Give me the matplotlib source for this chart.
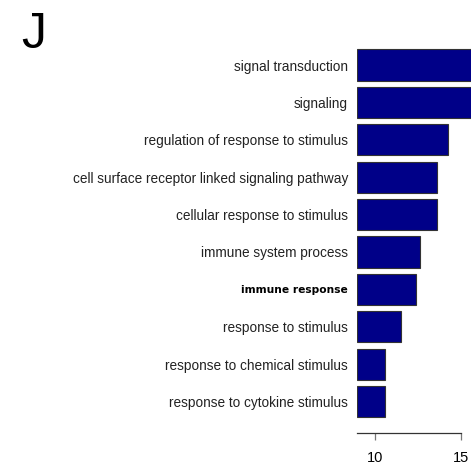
import matplotlib
matplotlib.use("Agg")
import matplotlib.pyplot as plt

plt.rcParams['font.family'] = ['Liberation Sans', 'DejaVu Sans']

# GO terms, top to bottom, with their scores
terms = ["signal transduction", "signaling", "regulation of response to stimulus",
         "cell surface receptor linked signaling pathway", "cellular response to stimulus",
         "immune system process", "immune response", "response to stimulus",
         "response to chemical stimulus", "response to cytokine stimulus"]
scores = [17.9, 17.6, 14.25, 13.6, 13.6, 12.6, 12.4, 11.5, 10.55, 10.55]
ticks = [10, 15]

W, H = 471, 466
fig = plt.figure(figsize=(W / 100, H / 100), dpi=100)

x0, x1 = 8.95, 20.0
px_per_unit = 17.2
left_px, top_px, bottom_px = 357, 30, 433
ax = fig.add_axes([left_px / W, (H - bottom_px) / H,
                   (x1 - x0) * px_per_unit / W, (bottom_px - top_px) / H])

pos = list(range(len(terms)))
ax.barh(pos, [s - x0 for s in scores], left=x0, height=0.833,
        color="#000088", edgecolor="#333333", linewidth=0.8)

ax.set_xlim(x0, x1)
ax.set_ylim(9.84, -0.936)

for s in ["top", "right", "left"]:
    ax.spines[s].set_visible(False)
ax.spines["bottom"].set_bounds(x0, 15)
ax.spines["bottom"].set_linewidth(0.9)
ax.spines["bottom"].set_color("#333333")

ax.set_xticks(ticks)
ax.set_xticklabels([str(t) for t in ticks])
ax.tick_params(axis="x", length=5, width=0.9, color="#777777", pad=8, labelsize=10.5)

ax.set_yticks(pos)
ax.set_yticklabels(terms)
ax.tick_params(axis="y", length=0, pad=6.5, labelsize=9.8, labelcolor="#222222")
for lab in ax.get_yticklabels():
    if lab.get_text() == "immune response":
        lab.set_family("DejaVu Sans")
        lab.set_fontweight("bold")
        lab.set_fontsize(7.7)
        lab.set_color("black")

fig.text(21 / W, 1 - 48 / H, "J", fontsize=36, va="baseline", ha="left")

fig.savefig("out.png", dpi=100)
